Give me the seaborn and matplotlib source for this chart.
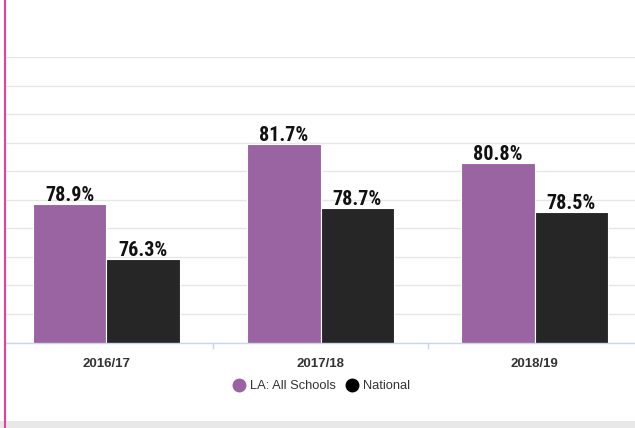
import matplotlib
matplotlib.use("Agg")
import matplotlib.pyplot as plt
import seaborn as sns
import pandas as pd
from matplotlib.lines import Line2D
from matplotlib.patches import Rectangle

years = ["2016/17", "2017/18", "2018/19"]
la_all_schools = [78.9, 81.7, 80.8]
national = [76.3, 78.7, 78.5]
series_names = ["LA: All Schools", "National"]
colors = ["#9a63a1", "#262626"]
legend_colors = ["#9a63a1", "#000000"]

df = pd.DataFrame({
    "year": years * 2,
    "value": la_all_schools + national,
    "series": [series_names[0]] * 3 + [series_names[1]] * 3,
})

sns.set_theme(style="white")
plt.rcParams["font.family"] = ["Liberation Sans", "DejaVu Sans"]

W, H = 635, 428
fig = plt.figure(figsize=(W / 100, H / 100), dpi=100)
ax_left, ax_right = 6, 635
ax_top, ax_bot = 57, 342.5
ax = fig.add_axes([ax_left / W, 1 - ax_bot / H, (ax_right - ax_left) / W, (ax_bot - ax_top) / H])

sns.barplot(data=df, x="year", y="value", hue="series", palette=colors,
            width=0.69, edgecolor="white", linewidth=0.8, saturation=1,
            legend=False, ax=ax)

ymin = 72.41
step = 1.334
ax.set_ylim(ymin, ymin + 10 * step)
ax.set_xlim(-0.4696, 2.4696)
ax.set_yticks([ymin + k * step for k in range(11)])
ax.yaxis.grid(True, color="#e6e6e6", linewidth=1)
ax.set_axisbelow(True)
ax.tick_params(axis="y", left=False, labelleft=False)
for s in ["top", "right", "left"]:
    ax.spines[s].set_visible(False)
ax.spines["bottom"].set_color("#ccd6eb")
ax.spines["bottom"].set_linewidth(1)

ax.set_xticks(range(len(years)))
ax.set_xticklabels(years, fontsize=9.5, fontweight="bold", color="#333333")
ax.set_xticks([0.5, 1.5], minor=True)
ax.tick_params(axis="x", which="major", length=0, pad=11)
ax.tick_params(axis="x", which="minor", length=4.5, width=1, color="#ccd6eb", bottom=True)
ax.set_xlabel("")
ax.set_ylabel("")

for cont in ax.containers:
    for bar in cont:
        h = bar.get_height()
        ax.annotate(f"{h:.1f}%", (bar.get_x() + bar.get_width() / 2, h),
                    xytext=(0, 2), textcoords="offset points",
                    ha="center", va="baseline", fontsize=14.5, fontweight="bold",
                    color="#111111",
                    family=["Roboto Condensed", "Archivo Narrow", "Barlow Condensed", "DejaVu Sans"])

handles = [Line2D([0], [0], marker="o", linestyle="", markersize=9,
                  markerfacecolor=c, markeredgecolor=c) for c in legend_colors]
leg = fig.legend(handles, series_names, loc="center",
                 bbox_to_anchor=(322 / W, 1 - 386 / H), ncol=2, frameon=False,
                 handlelength=0.9, handletextpad=0.4, columnspacing=0.8,
                 fontsize=9.3, labelcolor="#333333")

# bottom grey band and pink left rule
fig.patches.append(Rectangle((0, 0), 1, 7.5 / H, transform=fig.transFigure,
                             facecolor="#e8e8e8", edgecolor="none", zorder=0))
fig.add_artist(Line2D([5 / W, 5 / W], [0, 1], transform=fig.transFigure,
                      color="#e8409a", linewidth=1.5))

fig.savefig("out.png", dpi=100)
